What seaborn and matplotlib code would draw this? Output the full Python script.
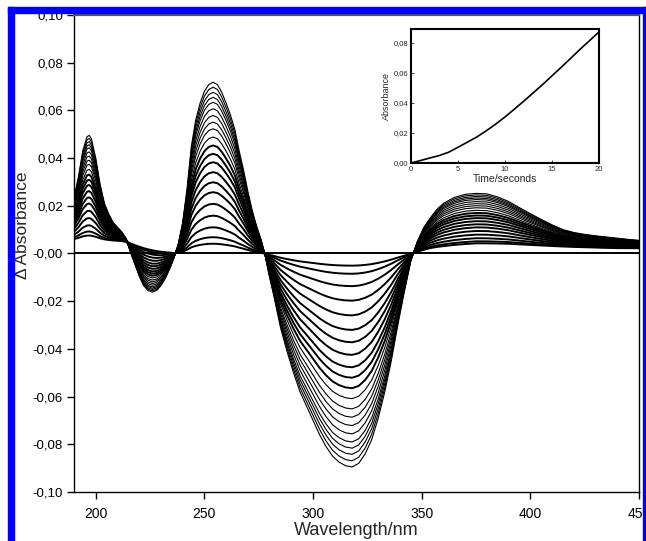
import numpy as np
import pandas as pd
import matplotlib
matplotlib.use('Agg')
import matplotlib.pyplot as plt
import seaborn as sns
from matplotlib.patches import Rectangle
from matplotlib.ticker import FuncFormatter, MultipleLocator

# final difference spectrum (last scan)
wavelength = [190, 192, 194, 196, 197, 198, 200, 202, 204, 206, 208, 210, 212, 214, 216, 218,
              220, 222, 224, 226, 228, 230, 232, 234, 236, 238, 240, 242, 244, 246, 248, 250,
              252, 254, 256, 258, 260, 262, 264, 266, 268, 270, 272, 274, 276, 278, 280, 282,
              285, 288, 291, 294, 297, 300, 303, 306, 309, 312, 315, 318, 321, 324, 327, 330,
              333, 336, 339, 342, 345, 348, 351, 354, 357, 360, 365, 370, 375, 380, 385, 390,
              395, 400, 405, 410, 415, 420, 425, 430, 435, 440, 445, 450]
final_spec = [0.0235, 0.032, 0.043, 0.049, 0.0495, 0.048, 0.040, 0.029, 0.021, 0.0165, 0.013, 0.011,
              0.009, 0.0062, 0.0005, -0.0045, -0.0095, -0.0135, -0.0155, -0.0162, -0.0155, -0.0135,
              -0.0105, -0.0065, -0.0018, 0.004, 0.013, 0.027, 0.045, 0.056, 0.063, 0.068, 0.0708,
              0.0718, 0.0708, 0.0675, 0.063, 0.058, 0.052, 0.043, 0.035, 0.026, 0.018, 0.0115,
              0.006, -0.001, -0.010, -0.018, -0.031, -0.041, -0.050, -0.058, -0.064, -0.070,
              -0.076, -0.081, -0.085, -0.0875, -0.089, -0.0895, -0.088, -0.084, -0.078, -0.069,
              -0.058, -0.045, -0.030, -0.016, -0.003, 0.005, 0.011, 0.015, 0.0185, 0.021, 0.0235,
              0.0248, 0.0252, 0.025, 0.0237, 0.0218, 0.0192, 0.0167, 0.0143, 0.0120, 0.0100,
              0.0088, 0.0080, 0.0074, 0.0069, 0.0064, 0.0059, 0.0055]
# small offset seen in the first scans (short wavelengths and the 380 nm band)
first_offset = [0.005, 0.005, 0.005, 0.005, 0.005, 0.005, 0.005, 0.005, 0.005, 0.005, 0.005, 0.005,
                0.005, 0.0048, 0.0044, 0.004, 0.0036, 0.0032, 0.0028, 0.0024, 0.002, 0.0016,
                0.0012, 0.0008, 0.0003, 0.0, 0.0, 0.0, 0.0, 0.0, 0.0, 0.0,
                0.0, 0.0, 0.0, 0.0, 0.0, 0.0, 0.0, 0.0, 0.0, 0.0, 0.0, 0.0, 0.0, 0.0, 0.0, 0.0,
                0.0, 0.0, 0.0, 0.0, 0.0, 0.0, 0.0, 0.0, 0.0, 0.0, 0.0, 0.0, 0.0, 0.0, 0.0, 0.0,
                0.0, 0.0, 0.0, 0.0, 0.0, 0.0005, 0.001, 0.0015, 0.0018, 0.002, 0.0024, 0.0027,
                0.003, 0.003, 0.003, 0.003, 0.0029, 0.0028, 0.0027, 0.0026, 0.0025, 0.0024,
                0.0023, 0.0022, 0.0021, 0.002, 0.002, 0.002]
# relative size of each scan (from the 254 nm peak heights), first one is the zero line
scan_fraction = [0, 0.057, 0.095, 0.153, 0.221, 0.29, 0.358, 0.416, 0.475, 0.533, 0.582,
                 0.631, 0.68, 0.728, 0.767, 0.806, 0.845, 0.883, 0.912, 0.941, 0.971, 1.0]

# inset: absorbance vs time
time_s = [0, 1, 2, 3, 4, 5, 6, 7, 8, 9, 10, 11, 12, 13, 14, 15, 16, 17, 18, 19, 20]
absorbance = [0.0, 0.0016, 0.0033, 0.0049, 0.0071, 0.0104, 0.0138, 0.0172, 0.0213, 0.0257,
              0.0305, 0.0357, 0.0410, 0.0465, 0.0520, 0.0578, 0.0636, 0.0695, 0.0755, 0.0812,
              0.0870]

sns.set_style('ticks')
plt.rcParams['font.family'] = ['Liberation Sans', 'DejaVu Sans']

fin = np.array(final_spec)
off = np.array(first_offset)
rows = []
for k, f in enumerate(scan_fraction):
    if k == 0:
        vals = np.zeros_like(fin)
    else:
        vals = off + f * (fin - off)
    for w, v in zip(wavelength, vals):
        rows.append({'wavelength': w, 'dA': v, 'scan': k})
spectra = pd.DataFrame(rows)

fig = plt.figure(figsize=(6.46, 5.41), dpi=100)
ax = fig.add_axes([0.1146, 0.0906, 0.8746, 0.8817])

for k in range(len(scan_fraction)):
    d = spectra[spectra['scan'] == k]
    lw = 1.4 if k <= 11 else 0.8
    sns.lineplot(data=d, x='wavelength', y='dA', ax=ax, color='black', linewidth=lw)

ax.set_xlim(190, 450)
ax.set_ylim(-0.10, 0.10)
ax.xaxis.set_major_locator(MultipleLocator(50))
ax.yaxis.set_major_locator(MultipleLocator(0.02))
comma = FuncFormatter(lambda v, p: f'{v:.2f}'.replace('.', ','))
ax.yaxis.set_major_formatter(comma)
ax.tick_params(axis='both', direction='out', length=5, width=1, colors='black')
ax.tick_params(axis='x', labelsize=10, pad=6)
ax.tick_params(axis='y', labelsize=9.5, pad=3)
for s in ax.spines.values():
    s.set_visible(True)
    s.set_color('black')
    s.set_linewidth(1.0)
ax.spines['top'].set_color('#555555')
ax.spines['top'].set_linewidth(1.6)
ax.set_xlabel('Wavelength/nm', fontsize=13)
ax.set_ylabel('Δ Absorbance', fontsize=12.5)
ax.xaxis.set_label_coords(0.5, -0.062)
ax.yaxis.set_label_coords(-0.078, 0.56)

# inset
axin = fig.add_axes([0.636, 0.6987, 0.291, 0.2477])
sns.lineplot(x=time_s, y=absorbance, ax=axin, color='black', linewidth=1.2)
axin.set_xlim(0, 20)
axin.set_ylim(0, 0.089)
axin.xaxis.set_major_locator(MultipleLocator(5))
axin.yaxis.set_major_locator(MultipleLocator(0.02))
axin.yaxis.set_major_formatter(comma)
axin.tick_params(axis='both', direction='in', length=2, width=0.6, labelsize=5.5, pad=2)
for s in axin.spines.values():
    s.set_visible(True)
    s.set_color('black')
    s.set_linewidth(1.5)
axin.set_xlabel('Time/seconds', fontsize=7.5, labelpad=1)
axin.set_ylabel('Absorbance', fontsize=6.5, labelpad=2)

# blue frame around the figure
blue = '#0000ff'
H = 541.0
W = 646.0
fig.add_artist(Rectangle((8 / W, 0), 6 / W, (H - 7) / H, transform=fig.transFigure,
                         color=blue, zorder=10))
fig.add_artist(Rectangle((8 / W, (H - 13) / H), 1 - 8 / W, 6 / H, transform=fig.transFigure,
                         color=blue, zorder=10))
fig.add_artist(Rectangle((643 / W, 0), 3 / W, (H - 7) / H, transform=fig.transFigure,
                         color=blue, zorder=10))

fig.savefig('out.png', dpi=100)
